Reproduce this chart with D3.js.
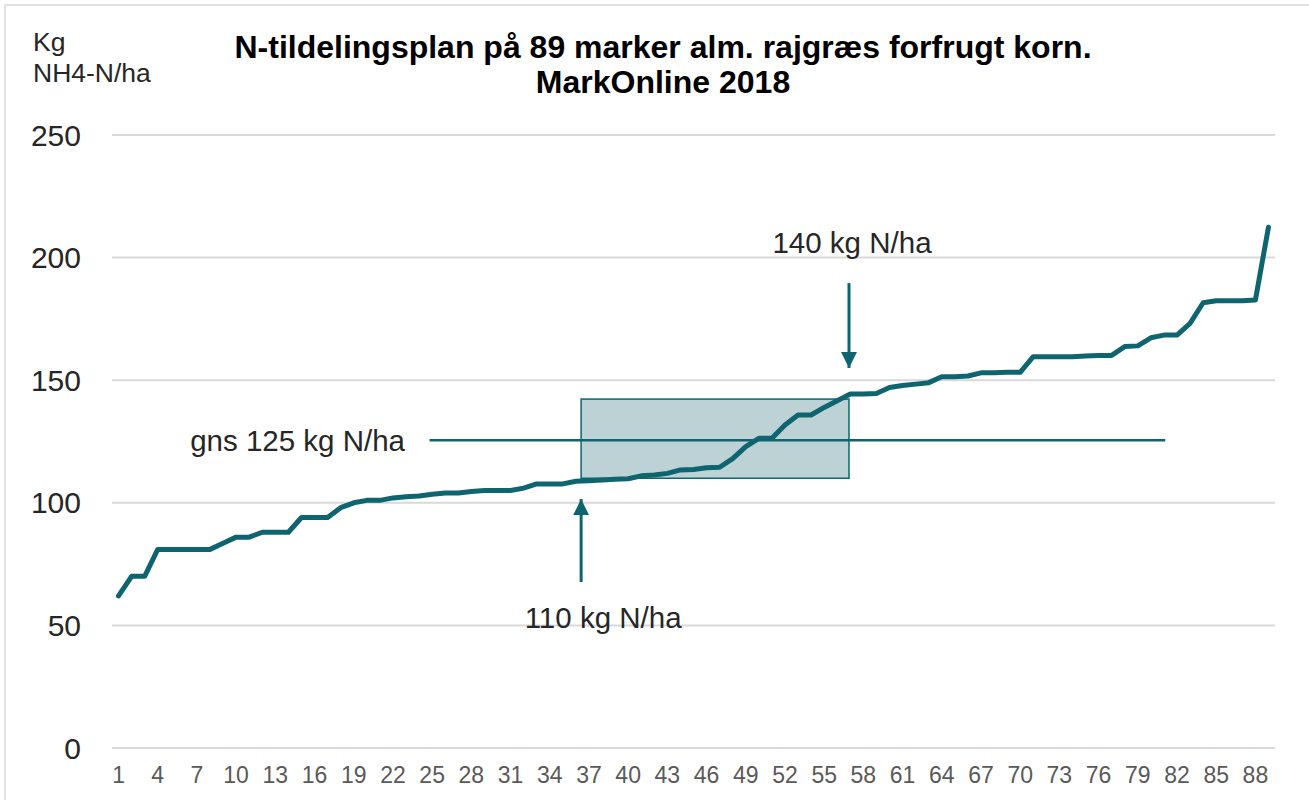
<!DOCTYPE html>
<html>
<head>
<meta charset="utf-8">
<script src="https://cdn.jsdelivr.net/npm/d3@7"></script>
<style>
  html, body { margin: 0; padding: 0; background: #fff; }
  svg { display: block; font-family: Arial, "Liberation Sans", sans-serif; }
</style>
</head>
<body>
<svg id="chart" width="1309" height="800"></svg>
<script>
const TITLE_LINES = [
  "N-tildelingsplan på 89 marker alm. rajgræs forfrugt korn.",
  "MarkOnline 2018",
];
const Y_LABEL_LINES = ["Kg", "NH4-N/ha"];

// N-norm per mark, sorteret stigende
const nValues = [
  62, 70, 70, 81, 81, 81, 81, 81, 83.5, 86,
  86, 88, 88, 88, 94, 94, 94, 98, 100, 101,
  101, 102, 102.5, 102.8, 103.5, 104, 104, 104.6, 105, 105,
  105, 106, 107.7, 107.7, 107.7, 108.8, 109, 109.3, 109.6, 109.8,
  111, 111.3, 112, 113.4, 113.6, 114.3, 114.5, 118, 122.9, 126.3,
  126.3, 131.7, 135.8, 135.8, 138.9, 141.6, 144.4, 144.4, 144.6, 147,
  147.8, 148.4, 149, 151.4, 151.4, 151.7, 153, 153, 153.2, 153.2,
  159.6, 159.6, 159.6, 159.6, 159.9, 160.1, 160.1, 163.7, 164, 167.3,
  168.4, 168.4, 173.2, 181.6, 182.4, 182.4, 182.4, 182.7, 212.4,
];
const marks = nValues.map((_, i) => i + 1);
const yTicks = [0, 50, 100, 150, 200, 250];
const xTicks = marks.filter((m) => (m - 1) % 3 === 0);

// annotations (mark index / kg N)
const meanLine = { value: 125.5, from: 24.8, to: 81.1, label: "gns 125 kg N/ha" };
const rangeBox = { from: 36.4, to: 56.9, low: 110, high: 142.3 };
const arrowLow = { at: 36.4, tail: 67.7, tip: 101.5, label: "110 kg N/ha", labelDx: 22, labelAt: 53 };
const arrowHigh = { at: 56.9, tail: 189.6, tip: 155, label: "140 kg N/ha", labelDx: 3, labelAt: 206 };

const TEAL = "#0e6570";
const GRID = "#d9d9d9";

const svg = d3.select("#chart");

const x = d3.scaleBand().domain(marks).range([112, 1275]);
const xc = (m) => x(m) + x.bandwidth() / 2;
const xl = d3.scaleLinear().domain([1, 89]).range([xc(1), xc(89)]);
const y = d3.scaleLinear().domain([0, 250]).range([748, 135]);

// frame
svg.append("path")
  .attr("d", "M5,800V5H1309")
  .attr("fill", "none")
  .attr("stroke", GRID)
  .attr("stroke-width", 1.5);

// gridlines
svg.append("g")
  .selectAll("line")
  .data(yTicks)
  .join("line")
  .attr("x1", 112)
  .attr("x2", 1275)
  .attr("y1", (d) => y(d))
  .attr("y2", (d) => y(d))
  .attr("stroke", GRID)
  .attr("stroke-width", 2);

// y tick labels
svg.append("g")
  .selectAll("text")
  .data(yTicks)
  .join("text")
  .attr("x", 81)
  .attr("y", (d) => y(d))
  .attr("dy", "0.35em")
  .attr("text-anchor", "end")
  .attr("font-size", 30)
  .attr("fill", "#262626")
  .text((d) => d);

// x tick labels
svg.append("g")
  .selectAll("text")
  .data(xTicks)
  .join("text")
  .attr("x", (d) => xc(d))
  .attr("y", 775)
  .attr("dy", "0.35em")
  .attr("text-anchor", "middle")
  .attr("font-size", 23)
  .attr("fill", "#595959")
  .text((d) => d);

// y axis title
svg.append("g")
  .selectAll("text")
  .data(Y_LABEL_LINES)
  .join("text")
  .attr("x", 33)
  .attr("y", (d, i) => 42 + i * 31)
  .attr("dy", "0.35em")
  .attr("font-size", 26.5)
  .attr("fill", "#262626")
  .text((d) => d);

// title
svg.append("g")
  .selectAll("text")
  .data(TITLE_LINES)
  .join("text")
  .attr("x", 663)
  .attr("y", (d, i) => 47 + i * 35)
  .attr("dy", "0.35em")
  .attr("text-anchor", "middle")
  .attr("font-size", 32)
  .attr("font-weight", "bold")
  .attr("fill", "#000")
  .text((d) => d);

// shaded range box
svg.append("rect")
  .attr("x", xl(rangeBox.from))
  .attr("y", y(rangeBox.high))
  .attr("width", xl(rangeBox.to) - xl(rangeBox.from))
  .attr("height", y(rangeBox.low) - y(rangeBox.high))
  .attr("fill", "#bdd2d5")
  .attr("stroke", TEAL)
  .attr("stroke-width", 1.5);

// mean line
svg.append("line")
  .attr("x1", xl(meanLine.from))
  .attr("x2", xl(meanLine.to))
  .attr("y1", y(meanLine.value))
  .attr("y2", y(meanLine.value))
  .attr("stroke", TEAL)
  .attr("stroke-width", 2.5);

svg.append("text")
  .attr("x", 405)
  .attr("y", y(meanLine.value))
  .attr("dy", "0.35em")
  .attr("text-anchor", "end")
  .attr("font-size", 29.5)
  .attr("fill", "#262626")
  .text(meanLine.label);

// data line
const line = d3.line()
  .x((d, i) => xc(marks[i]))
  .y((d) => y(d));

svg.append("path")
  .datum(nValues)
  .attr("d", line)
  .attr("fill", "none")
  .attr("stroke", TEAL)
  .attr("stroke-width", 5)
  .attr("stroke-linejoin", "round")
  .attr("stroke-linecap", "round");

// arrows
svg.append("defs")
  .append("marker")
  .attr("id", "head")
  .attr("viewBox", "0 0 10 10")
  .attr("refX", 10)
  .attr("refY", 5)
  .attr("markerUnits", "userSpaceOnUse")
  .attr("markerWidth", 18)
  .attr("markerHeight", 16)
  .attr("orient", "auto")
  .append("path")
  .attr("d", "M0,0L10,5L0,10Z")
  .attr("fill", TEAL);

[arrowLow, arrowHigh].forEach((a) => {
  svg.append("line")
    .attr("x1", xl(a.at))
    .attr("x2", xl(a.at))
    .attr("y1", y(a.tail))
    .attr("y2", y(a.tip))
    .attr("stroke", TEAL)
    .attr("stroke-width", 3)
    .attr("marker-end", "url(#head)");

  svg.append("text")
    .attr("x", xl(a.at) + a.labelDx)
    .attr("y", y(a.labelAt))
    .attr("dy", "0.35em")
    .attr("text-anchor", "middle")
    .attr("font-size", 29.5)
    .attr("fill", "#262626")
    .text(a.label);
});
</script>
</body>
</html>
